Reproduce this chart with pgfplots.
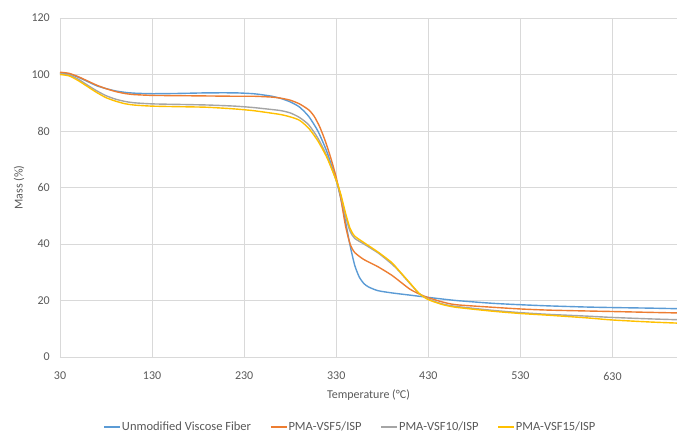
\documentclass[border=0pt]{standalone}
\usepackage{fontspec}
\setmainfont{Carlito}
\usepackage{pgfplots}
\pgfplotsset{compat=1.18}
\definecolor{xblue}{HTML}{5B9BD5}
\definecolor{xorange}{HTML}{ED7D31}
\definecolor{xgray}{HTML}{A5A5A5}
\definecolor{xyellow}{HTML}{FFC000}
\definecolor{txt}{HTML}{595959}
\definecolor{gridc}{HTML}{D9D9D9}
\begin{document}
\begin{tikzpicture}
\useasboundingbox (-60pt,-78pt) rectangle (623pt,357pt);
\begin{axis}[
  at={(0,0)}, anchor=south west,
  scale only axis, width=617pt, height=339pt,
  xmin=30, xmax=700, ymin=0, ymax=120,
  xtick={30,130,230,330,430,530,630},
  ytick={0,20,40,60,80,100,120},
  major tick length=0pt,
  axis line style={draw=none},
  grid=major, grid style={gridc, line width=0.8pt},
  tick label style={font=\fontsize{12}{14}\selectfont, text=txt, inner sep=0pt},
  /pgf/number format/assume math mode=true,
  xticklabel style={anchor=center, yshift=-19pt},
  yticklabel style={anchor=east, xshift=-10pt},
  xlabel={Temperature (°C)}, ylabel={Mass (\%)},
  label style={font=\fontsize{12}{14}\selectfont, text=txt},
  xlabel style={at={(axis description cs:0.5,-0.112)}, anchor=center},
  ylabel style={at={(axis description cs:-0.0665,0.5)}, anchor=center, rotate=0},
  legend style={at={(axis description cs:0.47,-0.2065)}, anchor=center, draw=none, legend columns=4,
    font=\fontsize{12.5}{14}\selectfont, text=txt,
    nodes={inner sep=1pt},
    /tikz/every even column/.append style={column sep=18pt}},
  legend image code/.code={\draw[#1, line width=1.4pt] (0pt,0pt) -- (16pt,0pt);},
  every axis plot/.append style={line width=1.4pt, smooth, tension=0.4},
]
\addplot[xblue] coordinates {
(30,100.5)(40,100.2)(50,99)(60,97.5)(70,96)(80,95)(90,94.2)(100,93.7)(110,93.4)(130,93.2)(160,93.3)(190,93.5)(220,93.5)(240,93.2)(250,92.8)(260,92.3)(270,91.5)(280,90.3)(290,88.5)(300,85.2)(310,80)(320,72.5)(330,62.5)(335,56)(340,48)(345,39.5)(350,32.5)(355,28.3)(360,26)(365,24.8)(375,23.5)(390,22.7)(410,21.9)(430,21.1)(460,20)(500,19)(530,18.5)(560,18.1)(600,17.7)(630,17.5)(670,17.3)(700,17.1)};
\addlegendentry{Unmodified Viscose Fiber}
\addplot[xorange] coordinates {
(30,100.8)(40,100.4)(50,99.2)(60,97.7)(70,96.2)(80,95)(90,94)(100,93.3)(110,92.9)(130,92.6)(160,92.5)(190,92.4)(220,92.3)(240,92.3)(260,92)(270,91.6)(280,90.9)(290,89.6)(300,87.5)(306,85.2)(312,81.5)(318,76.5)(324,70.5)(330,63.5)(335,56)(340,46.5)(345,40)(350,37)(360,34.5)(375,32)(390,29)(400,26.5)(410,24)(420,22.3)(430,21)(445,19.5)(460,18.5)(500,17.6)(530,17)(560,16.6)(600,16.3)(630,16.1)(670,15.8)(700,15.6)};
\addlegendentry{PMA-VSF5/ISP}
\addplot[xgray] coordinates {
(30,100.3)(40,99.8)(50,98.3)(60,96.2)(70,94.2)(80,92.5)(90,91.3)(100,90.5)(110,90)(130,89.6)(160,89.4)(190,89.2)(220,88.8)(240,88.3)(260,87.6)(270,87.2)(280,86.4)(290,84.8)(300,82.2)(310,77.5)(320,71)(330,62.5)(335,57)(340,50)(345,44.5)(350,42)(360,40)(376,36.7)(390,33)(397,30.8)(410,26)(420,22.5)(430,20.5)(445,18.8)(460,17.9)(500,16.5)(530,15.7)(560,15.1)(600,14.5)(630,14)(670,13.5)(700,13.2)};
\addlegendentry{PMA-VSF10/ISP}
\addplot[xyellow] coordinates {
(30,100)(40,99.5)(50,97.8)(60,95.7)(70,93.6)(80,91.8)(90,90.6)(100,89.7)(110,89.2)(130,88.8)(160,88.6)(190,88.4)(220,87.8)(240,87.2)(260,86.3)(270,85.8)(280,85)(290,83.8)(300,81)(310,76.5)(320,70.5)(330,62.5)(335,57.5)(340,51)(345,45.5)(350,42.8)(360,40.5)(376,37)(390,33.5)(397,31)(410,26.2)(420,22.5)(430,20.3)(445,18.6)(460,17.6)(500,16.2)(530,15.4)(560,14.8)(600,13.9)(630,13.1)(670,12.4)(700,12)};
\addlegendentry{PMA-VSF15/ISP}
\end{axis}
\end{tikzpicture}
\end{document}
